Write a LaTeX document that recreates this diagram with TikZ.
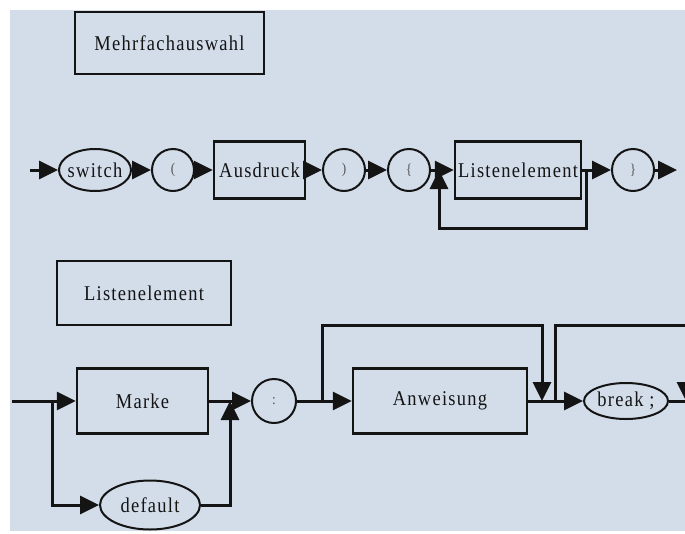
\documentclass[tikz,border=0pt]{standalone}
\usepackage{fontspec}
\setmainfont[LetterSpace=6, FakeStretch=0.88]{Liberation Serif}
\usetikzlibrary{arrows.meta, positioning, shapes.geometric}
\definecolor{bgblue}{RGB}{211,221,234}
\definecolor{ink}{RGB}{20,20,20}
\definecolor{symgray}{RGB}{85,85,85}
\newcommand{\slim}[1]{\makebox[0pt]{#1}}

\begin{document}
\begin{tikzpicture}[x=1pt, y=-1pt, >={Triangle[length=19pt, width=18pt]},
  every node/.style={font=\fontsize{21}{24}\selectfont, text=ink},
  box/.style={draw=ink, rectangle, line width=2.5pt, inner sep=0pt},
  word/.style={draw=ink, ellipse, line width=2pt, inner sep=0pt},
  sym/.style={draw=ink, circle, line width=2pt, minimum size=42pt, inner sep=0pt,
    font=\fontsize{15}{17}\selectfont, text=symgray},
  flow/.style={draw=ink, line width=3pt}]
  \clip (0,0) rectangle (685,533);
  \fill[bgblue] (10,10) rectangle (690,531);

  % Mehrfachauswahl
  \node[box, minimum width=189pt, minimum height=62pt] (title1) at (169.5,43) {Mehrfachauswahl};

  \node[word, minimum width=72pt, minimum height=42pt] (sw) at (95,170) {\slim{switch}};
  \node[sym] (lp) at (173,170) {(};
  \node[box, minimum width=91pt, minimum height=57pt] (ausd) at (259.5,170) {\slim{Ausdruck}};
  \node[sym] (rp) at (344,170) {)};
  \node[sym] (lb) at (409,170) {\{};
  \node[box, minimum width=126pt, minimum height=57pt] (list1) at (518,170) {\slim{Listenelement}};
  \node[sym] (rb) at (633,170) {\}};

  \coordinate (in1) at (30,170);
  \coordinate (out1) at (677,170);
  \coordinate (back1) at (586,170);
  \coordinate (join1) at (439,170);

  \draw[flow,->] (in1) -- (sw);
  \draw[flow,->] (sw) -- (lp);
  \draw[flow,->] (lp) -- (ausd);
  \draw[flow,->] (ausd) -- (rp);
  \draw[flow,->] (rp) -- (lb);
  \draw[flow,->] (lb) -- (list1);
  \draw[flow,->] (list1) -- (rb);
  \draw[flow,->] (rb) -- (out1);
  \draw[flow,->] (back1) -- ++(0,58) -| (join1);

  % Listenelement
  \node[box, minimum width=174pt, minimum height=64pt] (title2) at (144,293) {Listenelement};

  \node[box, minimum width=131pt, minimum height=65pt] (marke) at (142.5,401) {Marke\hspace{21pt}};
  \node[word, minimum width=100pt, minimum height=49pt] (dflt) at (150,505) {\slim{default}};
  \node[sym, minimum size=44pt] (colon) at (274,401) {:};
  \node[box, minimum width=174pt, minimum height=65pt] (anw) at (440,401) {Anweisung\hspace{32pt}};
  \node[word, minimum width=84pt, minimum height=36pt] (brk) at (626,401) {\slim{break ;}};

  \coordinate (in2) at (12,401);
  \coordinate (fork) at (52,401);
  \coordinate (merge) at (230,401);
  \coordinate (skip) at (322,401);
  \coordinate (land) at (542,401);
  \coordinate (rep) at (555,401);
  \coordinate (edge) at (686,401);
  \coordinate (out2) at (700,401);

  \draw[flow,->] (in2) -- (marke);
  \draw[flow,->] (fork) |- (dflt);
  \draw[flow,->] (marke) -- (colon);
  \draw[flow,->] (dflt) -| (merge);
  \draw[flow,->] (colon) -- (anw);
  \draw[flow,->] (skip) -- ++(0,-76) -| (land);
  \draw[flow,->] (anw) -- (brk);
  \draw[flow,->] (rep) -- ++(0,-76) -| (edge);
  \draw[flow] (brk) -- (out2);
\end{tikzpicture}
\end{document}
